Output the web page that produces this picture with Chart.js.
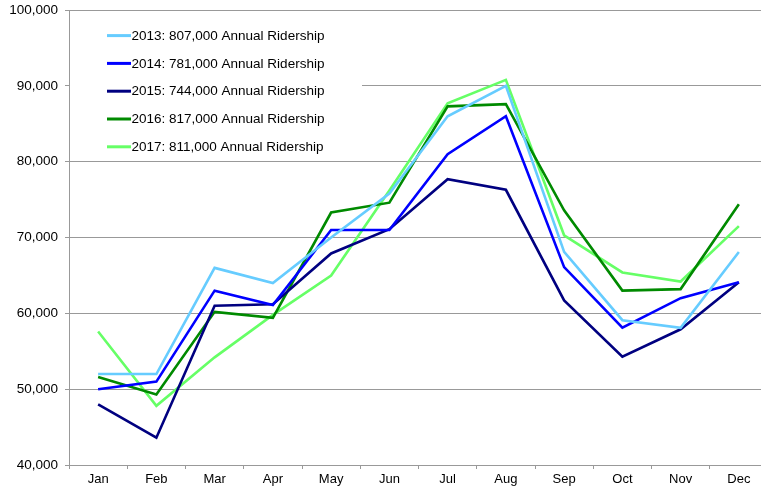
<!DOCTYPE html>
<html>
<head>
	<title>Monthly Ridership</title>
	<script type="text/javascript" src="https://cdn.jsdelivr.net/npm/chart.js@4.4.1/dist/chart.umd.min.js"></script>
	<style>
		body { margin:0; overflow:hidden; background:#fff; }
		#chart { display:block; margin-top:-5px; }
	</style>
</head>
<body>
	<div id="canvas-container" style="width:761px;height:489px;overflow:hidden;">
		<canvas id="chart" width="770" height="494"></canvas>
	</div>

	<script>
		var meses = ["Jan", "Feb", "Mar", "Apr", "May", "Jun", "Jul", "Aug", "Sep", "Oct", "Nov", "Dec"];
		var etiquetas = [
			"2013: 807,000 Annual Ridership",
			"2014: 781,000 Annual Ridership",
			"2015: 744,000 Annual Ridership",
			"2016: 817,000 Annual Ridership",
			"2017: 811,000 Annual Ridership"
		];
		var datos_2013 = [52000, 52000, 66000, 64000, 70000, 75800, 86000, 90000, 68100, 59100, 58100, 68100];
		var datos_2014 = [50000, 51000, 63000, 61100, 71000, 71000, 81000, 86000, 66100, 58100, 62000, 64100];
		var datos_2015 = [48000, 43600, 61000, 61200, 67900, 71100, 77700, 76300, 61700, 54300, 57900, 64100];
		var datos_2016 = [51600, 49300, 60200, 59400, 73300, 74600, 87300, 87600, 73600, 63000, 63200, 74400];
		var datos_2017 = [57600, 47800, 54200, 59800, 65000, 76200, 87700, 90800, 70300, 65400, 64200, 71500];
		var eje_min = 40000;
		var eje_max = 100000;
		var eje_paso = 10000;

		var colores = ["#66ccff", "#0000ff", "#000080", "#008a00", "#66ff66"];
		var series = [datos_2013, datos_2014, datos_2015, datos_2016, datos_2017];
		var fuente = "'Liberation Sans', Arial, sans-serif";

		var _datasets = [];
		for (var i = 0; i < series.length; i++) {
			_datasets.push({
				label : etiquetas[i],
				data : series[i],
				borderColor : colores[i],
				backgroundColor : colores[i],
				borderWidth : 2.6,
				pointRadius : 0,
				tension : 0,
				fill : false
			});
		}

		// leyenda dentro del area del grafico, con fondo blanco
		var leyenda = {
			id : "leyenda",
			beforeDatasetsDraw : function(chart) {
				var ctx = chart.ctx;
				var top = chart.chartArea.top;
				ctx.save();
				ctx.fillStyle = "#ffffff";
				ctx.fillRect(70, top + 2, 292, 146);
				ctx.font = "13.5px " + fuente;
				ctx.textBaseline = "middle";
				ctx.textAlign = "left";
				for (var j = 0; j < chart.data.datasets.length; j++) {
					var ds = chart.data.datasets[j];
					var y = top + 25.5 + j * 27.8;
					ctx.strokeStyle = ds.borderColor;
					ctx.lineWidth = 3;
					ctx.beginPath();
					ctx.moveTo(107, y);
					ctx.lineTo(131, y);
					ctx.stroke();
					ctx.fillStyle = "#000000";
					ctx.fillText(ds.label, 131.5, y + 0.5);
				}
				ctx.restore();
			}
		};

		var canvas = document.getElementById('chart').getContext('2d');
		window.linea = new Chart(canvas, {
			type : "line",
			data : {
				labels : meses,
				datasets : _datasets
			},
			plugins : [leyenda],
			options : {
				responsive : false,
				animation : false,
				layout : {
					padding : { top : 2, right : 2, left : 0, bottom : 0 }
				},
				plugins : {
					legend : { display : false },
					tooltip : { enabled : false }
				},
				scales : {
					x : {
						offset : true,
						afterFit : function(scale) { scale.height = 24; },
						grid : {
							offset : true,
							drawOnChartArea : false,
							drawTicks : true,
							tickLength : 4,
							color : "#999999"
						},
						border : { display : true, color : "#999999", width : 1 },
						ticks : {
							color : "#000000",
							font : { family : fuente, size : 13 },
							padding : 3,
							maxRotation : 0
						}
					},
					y : {
						min : eje_min,
						max : eje_max,
						afterFit : function(scale) { scale.width = 69; },
						grid : {
							color : "#999999",
							lineWidth : 1,
							tickLength : 4
						},
						border : { display : true, color : "#999999", width : 1 },
						ticks : {
							stepSize : eje_paso,
							color : "#000000",
							font : { family : fuente, size : 13.5 },
							padding : 7,
							callback : function(v) { return v.toLocaleString("en-US"); }
						}
					}
				}
			}
		});
	</script>
</body>
</html>
